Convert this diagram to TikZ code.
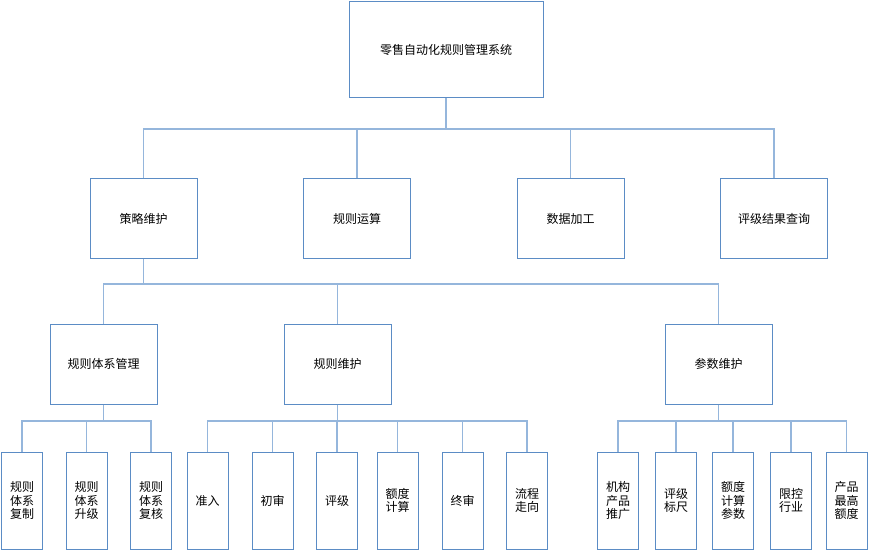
\documentclass[tikz,border=0pt]{standalone}
\usepackage{fontspec}
\setmainfont{Noto Sans CJK SC}
\begin{document}
\begin{tikzpicture}[x=1pt,y=-1pt,
  box/.style={draw=boxblue,line width=1pt,fill=white,inner sep=0pt,align=center,font=\fontsize{12}{13.5}\selectfont},
  conn/.style={draw=linkblue,line width=1.3pt}]
\definecolor{boxblue}{HTML}{5B8CC5}
\definecolor{linkblue}{HTML}{95B6DC}
\useasboundingbox (0,0) rectangle (869,553);
% root
\node[box,minimum width=194pt,minimum height=96pt] (root) at (446,50) {零售自动化规则管理系统};
% level 1
\foreach \n/\x/\t in {a/143.5/策略维护,b/357/规则运算,c/570.5/数据加工,d/774/评级结果查询}
  \node[box,minimum width=107pt,minimum height=79pt] (\n) at (\x,218.5) {\t};
% level 2
\foreach \n/\x/\t in {a1/103.5/规则体系管理,a2/337.5/规则维护,a3/718.5/参数维护}
  \node[box,minimum width=107pt,minimum height=80pt] (\n) at (\x,364) {\t};
% level 3
\foreach \n/\x/\t in {p1/22/规则\\体系\\复制,p2/86.5/规则\\体系\\升级,p3/151/规则\\体系\\复核,
  q1/207.5/准入,q2/272.5/初审,q3/337/评级,q4/397.5/额度\\计算,q5/462.5/终审,q6/527/流程\\走向,
  r1/618/机构\\产品\\推广,r2/676/评级\\标尺,r3/733/额度\\计算\\参数,r4/791/限控\\行业,r5/846.5/产品\\最高\\额度}
  \node[box,minimum width=41pt,minimum height=97pt] (\n) at (\x,500.5) {\t};
% connectors level 0-1
\coordinate (bus0) at (446,129);
\draw[conn] (root.south) -- (bus0);
\draw[conn] (a.north) |- (bus0) -| (d.north);
\draw[conn] (b.north) -- (b.north |- bus0);
\draw[conn] (c.north) -- (c.north |- bus0);
% level 1-2
\coordinate (bus1) at (143.5,284);
\draw[conn] (a.south) -- (bus1);
\draw[conn] (a1.north) |- (bus1) -| (a3.north);
\draw[conn] (a2.north) -- (a2.north |- bus1);
% level 2-3
\coordinate (bus2) at (103.5,421);
\draw[conn] (a1.south) -- (bus2);
\draw[conn] (p1.north) |- (bus2) -| (p3.north);
\draw[conn] (p2.north) -- (p2.north |- bus2);
\coordinate (bus3) at (337.5,421);
\draw[conn] (a2.south) -- (bus3);
\draw[conn] (q1.north) |- (bus3) -| (q6.north);
\foreach \n in {q2,q3,q4,q5} \draw[conn] (\n.north) -- (\n.north |- bus3);
\coordinate (bus4) at (718.5,421);
\draw[conn] (a3.south) -- (bus4);
\draw[conn] (r1.north) |- (bus4) -| (r5.north);
\foreach \n in {r2,r3,r4} \draw[conn] (\n.north) -- (\n.north |- bus4);
\end{tikzpicture}
\end{document}
